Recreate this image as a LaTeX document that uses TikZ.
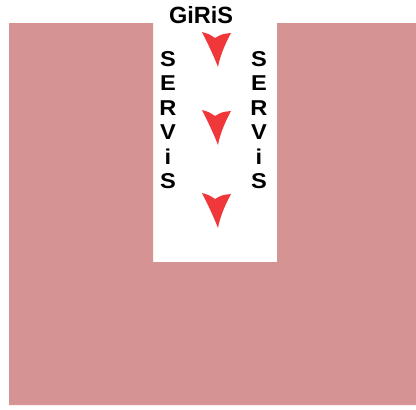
\documentclass[tikz,border=0pt]{standalone}
\usepackage{fontspec}
\setmainfont{Liberation Sans}
\definecolor{slab}{HTML}{D59393}
\definecolor{arrowred}{HTML}{F0383A}
\begin{document}
\begin{tikzpicture}[x=1pt,y=-1pt,
  letter/.style={font=\bfseries\fontsize{21.5}{21.5}\selectfont, inner sep=0pt, text=black},
  chev/.pic={\fill[arrowred] (-15,0) .. controls (-8,2) .. (-2,6) .. controls (5,2) .. (14,1) .. controls (8,12) and (3,24) .. (1,35) .. controls (-4,22) and (-10,10) .. cycle;}]
\useasboundingbox (0,0) rectangle (416,410);
\fill[white] (0,0) rectangle (416,410);
\fill[slab] (9,23) -- (153,23) -- (153,262) -- (277,262) -- (277,23) -- (416,23) -- (416,405) -- (9,405) -- cycle;
\node[font=\bfseries\fontsize{23.5}{23.5}\selectfont, inner sep=0pt] (giris) at (201,15) {GiRiS};
\foreach \t/\yy [count=\k] in {S/59,E/83.5,R/108,V/132.5,i/157,S/181.5}{
  \node[letter, xscale=1.1] (l\k) at (168,\yy) {\t};
  \node[letter, xscale=1.1] (r\k) at (259,\yy) {\t};
}
\pic (a1) at (217,32) {chev};
\pic (a2) at (217,110) {chev};
\pic (a3) at (217,193) {chev};
\end{tikzpicture}
\end{document}
